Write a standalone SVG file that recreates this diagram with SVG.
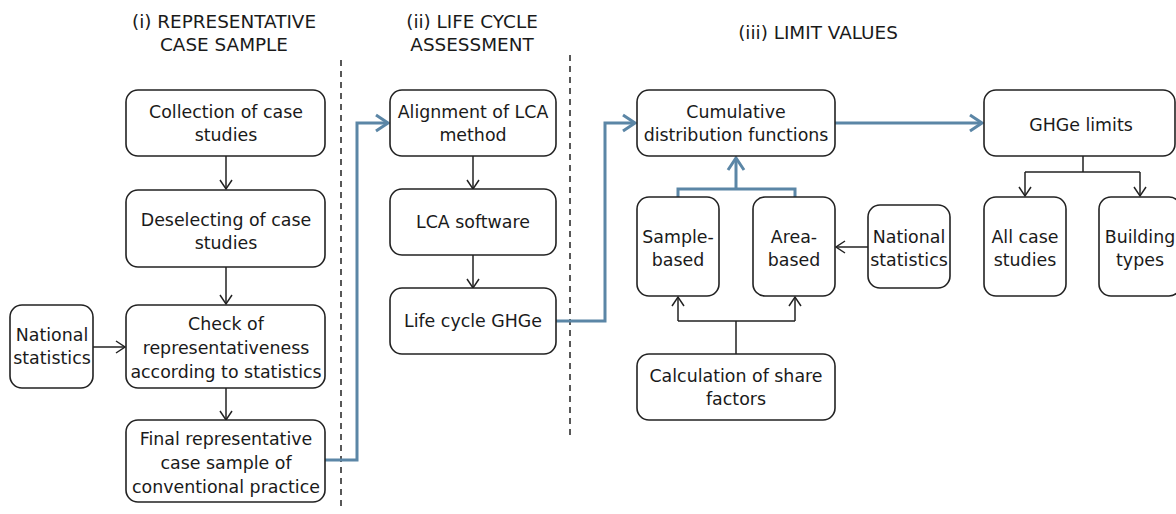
<svg xmlns="http://www.w3.org/2000/svg" width="1176" height="514" viewBox="0 0 1176 514">
<style>
.box{fill:#fff;stroke:#222;stroke-width:1.6}
text{font-family:"DejaVu Sans",Verdana,sans-serif;font-size:17.4px;fill:#1a1a1a;text-anchor:middle}
.ttl{font-size:18.4px}
.blk{fill:none;stroke:#222;stroke-width:1.5}
.blu{fill:none;stroke:#5b86a6;stroke-width:3}
.sep{stroke:#222;stroke-width:1.5;stroke-dasharray:6,5}
</style>
<defs>
<marker id="ab" viewBox="-11 -8 13 16" refX="0" refY="0" markerWidth="13" markerHeight="16" markerUnits="userSpaceOnUse" orient="auto">
<path d="M-9,-6 L0,0 L-9,6" fill="none" stroke="#222" stroke-width="1.5"/>
</marker>
<marker id="au" viewBox="-15 -10 17 20" refX="0" refY="0" markerWidth="17" markerHeight="20" markerUnits="userSpaceOnUse" orient="auto">
<path d="M-12,-8 L0,0 L-12,8" fill="none" stroke="#5b86a6" stroke-width="3"/>
</marker>
</defs>
<rect width="1176" height="514" fill="#fff"/>
<g id="titles">
<text class="ttl" x="224" y="28">(i) REPRESENTATIVE</text>
<text class="ttl" x="224" y="51">CASE SAMPLE</text>
<text class="ttl" x="472" y="28">(ii) LIFE CYCLE</text>
<text class="ttl" x="472" y="51">ASSESSMENT</text>
<text class="ttl" x="818" y="39">(iii) LIMIT VALUES</text>
</g>
<g id="separators">
<line class="sep" x1="341" y1="60" x2="341" y2="510"/>
<line class="sep" x1="570" y1="55" x2="570" y2="436"/>
</g>
<g id="connectors">
<line class="blk" x1="226" y1="156" x2="226" y2="189" marker-end="url(#ab)"/>
<line class="blk" x1="226" y1="267" x2="226" y2="304" marker-end="url(#ab)"/>
<line class="blk" x1="226" y1="388" x2="226" y2="420" marker-end="url(#ab)"/>
<line class="blk" x1="93" y1="347" x2="125" y2="347" marker-end="url(#ab)"/>
<line class="blk" x1="473" y1="156" x2="473" y2="189" marker-end="url(#ab)"/>
<line class="blk" x1="473" y1="255" x2="473" y2="288" marker-end="url(#ab)"/>
<path class="blu" d="M324,460 H357 V123 H388" marker-end="url(#au)"/>
<path class="blu" d="M556,321 H605 V123 H635" marker-end="url(#au)"/>
<path class="blu" d="M835,123 H982" marker-end="url(#au)"/>
<path class="blu" d="M678,197 V189 H795 V197"/>
<path class="blu" d="M736,189 V158" marker-end="url(#au)"/>
<line class="blk" x1="868" y1="247" x2="836" y2="247" marker-end="url(#ab)"/>
<path class="blk" d="M736,354 V321 M678,321 H795"/>
<line class="blk" x1="678" y1="321" x2="678" y2="297" marker-end="url(#ab)"/>
<line class="blk" x1="795" y1="321" x2="795" y2="297" marker-end="url(#ab)"/>
<path class="blk" d="M1083,156 V172 M1025,172 H1140"/>
<line class="blk" x1="1025" y1="172" x2="1025" y2="196" marker-end="url(#ab)"/>
<line class="blk" x1="1140" y1="172" x2="1140" y2="196" marker-end="url(#ab)"/>
</g>
<g id="collection">
<rect class="box" x="126" y="90" width="199" height="66" rx="12"/>
<text x="226" y="118">Collection of case</text>
<text x="226" y="141">studies</text>
</g>
<g id="deselecting">
<rect class="box" x="126" y="190" width="199" height="77" rx="12"/>
<text x="226" y="226">Deselecting of case</text>
<text x="226" y="249">studies</text>
</g>
<g id="national1">
<rect class="box" x="10" y="305" width="83" height="83" rx="12"/>
<text x="52" y="341">National</text>
<text x="52" y="364">statistics</text>
</g>
<g id="check">
<rect class="box" x="126" y="305" width="199" height="83" rx="12"/>
<text x="226" y="330">Check of</text>
<text x="226" y="354">representativeness</text>
<text x="226" y="378">according to statistics</text>
</g>
<g id="final">
<rect class="box" x="126" y="420" width="199" height="82" rx="12"/>
<text x="226" y="445">Final representative</text>
<text x="226" y="469">case sample of</text>
<text x="226" y="493">conventional practice</text>
</g>
<g id="alignment">
<rect class="box" x="390" y="90" width="166" height="66" rx="12"/>
<text x="473" y="118">Alignment of LCA</text>
<text x="473" y="141">method</text>
</g>
<g id="software">
<rect class="box" x="390" y="189" width="166" height="66" rx="12"/>
<text x="473" y="228">LCA software</text>
</g>
<g id="ghge">
<rect class="box" x="390" y="288" width="166" height="66" rx="12"/>
<text x="473" y="327">Life cycle GHGe</text>
</g>
<g id="cumulative">
<rect class="box" x="637" y="90" width="198" height="66" rx="12"/>
<text x="736" y="118">Cumulative</text>
<text x="736" y="141">distribution functions</text>
</g>
<g id="limits">
<rect class="box" x="984" y="90" width="191" height="66" rx="12"/>
<text x="1081" y="131">GHGe limits</text>
</g>
<g id="sample">
<rect class="box" x="637" y="197" width="82" height="99" rx="12"/>
<text x="678" y="243">Sample-</text>
<text x="678" y="266">based</text>
</g>
<g id="area">
<rect class="box" x="753" y="197" width="82" height="99" rx="12"/>
<text x="794" y="243">Area-</text>
<text x="794" y="266">based</text>
</g>
<g id="national2">
<rect class="box" x="868" y="205" width="82" height="83" rx="12"/>
<text x="909" y="243">National</text>
<text x="909" y="266">statistics</text>
</g>
<g id="allcases">
<rect class="box" x="984" y="197" width="82" height="99" rx="12"/>
<text x="1025" y="243">All case</text>
<text x="1025" y="266">studies</text>
</g>
<g id="buildingtypes">
<rect class="box" x="1099" y="197" width="82" height="99" rx="12"/>
<text x="1140" y="243">Building</text>
<text x="1140" y="266">types</text>
</g>
<g id="share">
<rect class="box" x="637" y="354" width="198" height="66" rx="12"/>
<text x="736" y="382">Calculation of share</text>
<text x="736" y="405">factors</text>
</g>
</svg>
